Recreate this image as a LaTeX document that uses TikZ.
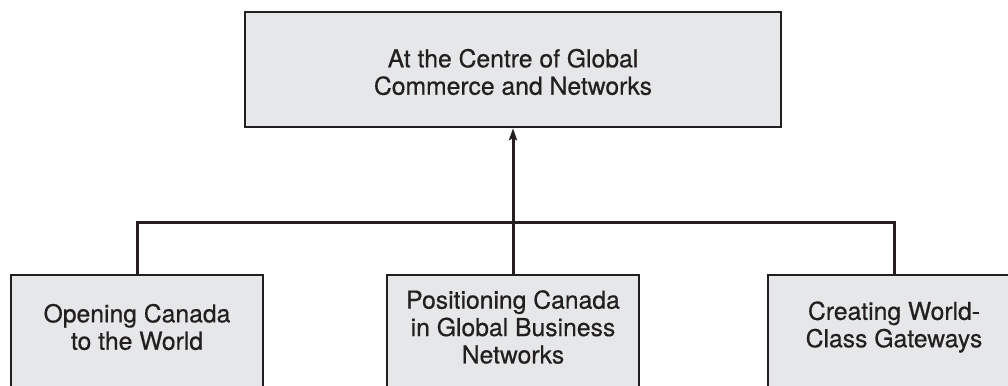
\documentclass[tikz,border=0pt]{standalone}
\usepackage{fontspec}
\setmainfont{TeX Gyre Heros}[FakeBold=0.5]
\usetikzlibrary{arrows.meta}
\definecolor{boxgray}{HTML}{E6E7E8}
\definecolor{inkdark}{HTML}{231F20}
\tikzset{
	box/.style={draw=inkdark, line width=2.4bp, fill=boxgray, inner sep=0pt},
	boxtext/.style={align=center, text=inkdark, font=\fontsize{24.8}{27.5}\selectfont},
	conn/.style={draw=inkdark, line width=3bp, line join=miter}
}
\begin{document}
\begin{tikzpicture}[x=1bp, y=-1bp]
	
	% Parameters
	\def\W{1008}
	\def\H{385}
	\def\boxW{252}
	\def\rowY{274} % top of the lower boxes
	\def\barY{222} % height of the joining bar
	
	\useasboundingbox (0,0) rectangle (\W,\H);
	\clip (0,0) rectangle (\W,\H);
	
	% -----------------------------
	% Top box
	% -----------------------------
	\node[box, minimum width=536bp, minimum height=115bp] (centre) at (513,69.5) {};
	\node[boxtext] (centretext) at (513,72) {At the Centre of Global\\Commerce and Networks};
	
	% -----------------------------
	% Lower boxes (run off the bottom edge)
	% -----------------------------
	\node[box, anchor=north, minimum width=\boxW bp, minimum height=140bp] (opening) at (137,\rowY) {};
	\node[box, anchor=north, minimum width=\boxW bp, minimum height=140bp] (networks) at (513,\rowY) {};
	\node[box, anchor=north, minimum width=\boxW bp, minimum height=140bp] (gateways) at (894,\rowY) {};
	
	\node[boxtext] (openingtext) at (137,327) {Opening Canada\\to the World};
	\node[boxtext] (networkstext) at (513,327) {Positioning Canada\\in Global Business\\Networks};
	\node[boxtext] (gatewaystext) at (894,327) {Creating World-\\Class Gateways};
	
	% -----------------------------
	% Connectors
	% -----------------------------
	\coordinate (bar) at (513,\barY);
	\draw[conn] (opening.north) |- (bar) -| (gateways.north);
	\draw[conn, -{Stealth[length=12bp, width=8bp, inset=2bp]}] (networks.north) -- (centre.south);
	
\end{tikzpicture}
\end{document}
